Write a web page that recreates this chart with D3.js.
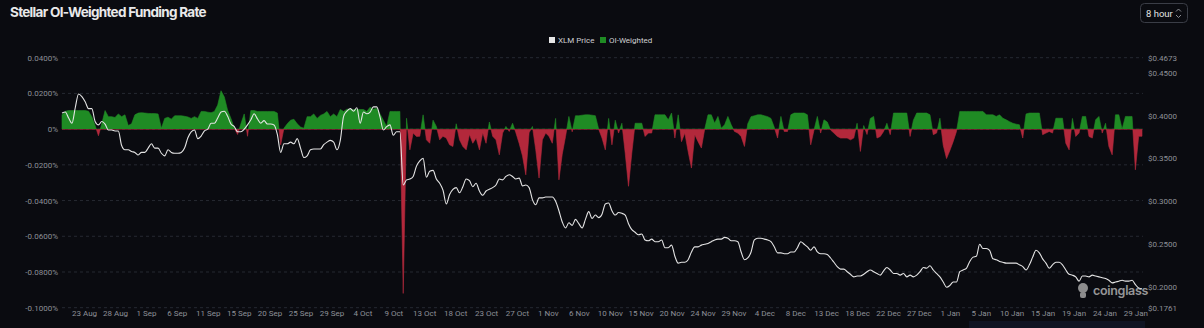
<!DOCTYPE html>
<html>
<head>
<meta charset="utf-8">
<script src="https://cdn.jsdelivr.net/npm/d3@7"></script>
<style>
  html, body { margin: 0; padding: 0; background: #0a0b10; }
  svg { display: block; }
</style>
</head>
<body>
<svg id="chart" width="1204" height="328"></svg>
<script>
// Série 12h à partir du 20 août 2025 (UTC)
const START_UTC = Date.UTC(2025, 7, 20);
const STEP_HOURS = 12;

// XLM prix ($)
const priceValues = [
  0.403,0.404,0.397,0.391,0.409,0.425,0.422,0.416,0.408,0.408,
  0.393,0.389,0.393,0.390,0.383,0.383,0.382,0.382,0.365,0.360,
  0.360,0.358,0.357,0.354,0.357,0.357,0.362,0.367,0.362,0.362,
  0.356,0.353,0.360,0.357,0.356,0.356,0.357,0.362,0.374,0.381,
  0.383,0.373,0.376,0.382,0.384,0.391,0.391,0.397,0.404,0.405,
  0.399,0.390,0.387,0.381,0.381,0.384,0.389,0.395,0.402,0.396,
  0.391,0.394,0.390,0.390,0.389,0.378,0.357,0.367,0.367,0.369,
  0.367,0.373,0.362,0.351,0.353,0.360,0.361,0.361,0.361,0.366,
  0.369,0.371,0.369,0.360,0.371,0.399,0.405,0.408,0.405,0.409,
  0.391,0.404,0.402,0.404,0.410,0.410,0.398,0.383,0.387,0.389,
  0.377,0.381,0.381,0.319,0.325,0.326,0.329,0.341,0.347,0.350,
  0.328,0.335,0.336,0.326,0.321,0.313,0.297,0.308,0.314,0.316,
  0.310,0.317,0.326,0.324,0.317,0.321,0.312,0.307,0.312,0.314,
  0.316,0.319,0.326,0.325,0.329,0.331,0.329,0.326,0.327,0.318,
  0.319,0.316,0.302,0.296,0.304,0.304,0.305,0.305,0.305,0.300,
  0.289,0.276,0.269,0.275,0.272,0.279,0.274,0.269,0.279,0.288,
  0.280,0.284,0.281,0.285,0.297,0.298,0.289,0.284,0.287,0.286,
  0.284,0.274,0.267,0.264,0.261,0.262,0.255,0.254,0.256,0.253,
  0.253,0.255,0.246,0.246,0.249,0.236,0.228,0.229,0.229,0.232,
  0.241,0.247,0.247,0.249,0.250,0.251,0.253,0.255,0.256,0.256,
  0.258,0.257,0.254,0.254,0.253,0.241,0.232,0.234,0.241,0.255,
  0.257,0.257,0.256,0.255,0.253,0.247,0.240,0.240,0.239,0.239,
  0.241,0.241,0.246,0.253,0.250,0.247,0.243,0.247,0.241,0.239,
  0.239,0.238,0.234,0.229,0.224,0.221,0.221,0.218,0.215,0.212,
  0.213,0.213,0.215,0.218,0.220,0.218,0.216,0.214,0.219,0.223,
  0.220,0.216,0.216,0.214,0.216,0.212,0.214,0.212,0.214,0.218,
  0.223,0.222,0.225,0.220,0.216,0.212,0.206,0.200,0.202,0.206,
  0.206,0.218,0.220,0.222,0.230,0.235,0.236,0.250,0.245,0.245,
  0.243,0.233,0.232,0.230,0.229,0.228,0.228,0.228,0.228,0.226,
  0.224,0.220,0.226,0.235,0.243,0.240,0.233,0.228,0.222,0.226,
  0.229,0.229,0.226,0.220,0.215,0.214,0.212,0.207,0.213,0.213,
  0.212,0.214,0.213,0.212,0.211,0.210,0.208,0.205,0.206,0.207,
  0.208,0.207,0.207,0.208,0.203,0.199,0.198
];

// Funding pondéré OI (%)
const fundingValues = [
  0.0080,0.0100,0.0104,0.0104,0.0104,0.0104,0.0104,0.0104,0.0100,0.0069,
  0.0020,-0.0037,0.0030,0.0104,0.0070,0.0070,0.0065,0.0085,0.0070,0.0080,
  0.0020,0.0030,0.0080,0.0090,0.0092,0.0090,0.0088,0.0087,0.0087,0.0085,
  0.0005,0.0060,0.0067,0.0056,0.0075,0.0075,0.0075,0.0072,0.0068,0.0060,
  0.0070,0.0060,0.0099,0.0099,0.0095,0.0092,0.0099,0.0135,0.0215,0.0180,
  0.0105,0.0060,0.0005,-0.0030,0.0030,0.0085,-0.0040,0.0104,0.0104,0.0099,
  0.0099,0.0099,0.0099,0.0099,0.0099,0.0090,-0.0088,0.0005,0.0030,0.0050,
  0.0055,0.0030,0.0012,0.0005,0.0070,0.0070,0.0085,0.0060,0.0077,0.0085,
  0.0099,0.0070,0.0085,0.0070,0.0110,0.0099,0.0112,0.0110,0.0110,0.0110,
  0.0110,0.0110,0.0099,0.0123,0.0112,0.0117,0.0085,0.0050,0.0015,0.0099,
  0.0099,0.0099,0.0099,-0.0920,0.0061,-0.0116,-0.0022,-0.0041,-0.0040,0.0080,
  -0.0060,-0.0079,0.0050,0.0015,-0.0060,-0.0040,-0.0050,-0.0088,-0.0097,0.0030,
  -0.0060,-0.0097,-0.0116,-0.0030,-0.0079,-0.0050,-0.0116,-0.0020,-0.0079,0.0040,
  -0.0040,-0.0060,-0.0144,-0.0022,0.0015,-0.0013,0.0033,-0.0020,-0.0080,-0.0150,
  -0.0256,-0.0020,0.0015,-0.0116,-0.0274,-0.0060,-0.0022,-0.0040,-0.0079,0.0060,
  -0.0284,-0.0140,-0.0041,0.0071,-0.0015,0.0075,0.0075,0.0078,0.0080,0.0080,
  0.0078,0.0075,0.0000,-0.0050,-0.0116,0.0060,-0.0088,0.0050,-0.0022,0.0033,
  -0.0134,-0.0320,-0.0134,0.0033,0.0033,0.0033,-0.0041,-0.0022,-0.0022,0.0080,
  0.0080,0.0080,0.0080,0.0052,0.0090,-0.0050,0.0080,-0.0070,-0.0022,-0.0125,
  -0.0218,-0.0031,-0.0070,-0.0106,0.0000,0.0080,0.0080,0.0033,0.0071,0.0005,
  0.0024,0.0071,0.0024,-0.0013,-0.0022,-0.0041,-0.0097,0.0030,0.0070,0.0075,
  0.0080,0.0080,0.0075,0.0070,0.0060,0.0010,-0.0050,0.0071,-0.0013,-0.0013,
  0.0080,0.0090,0.0090,0.0090,0.0090,0.0080,-0.0088,-0.0005,0.0071,-0.0022,
  0.0052,0.0040,-0.0005,-0.0022,-0.0040,-0.0050,-0.0050,-0.0050,-0.0060,-0.0050,
  0.0033,-0.0125,0.0020,-0.0030,0.0060,0.0071,-0.0050,-0.0041,-0.0013,0.0033,
  -0.0031,0.0090,0.0090,0.0090,0.0090,0.0090,-0.0041,0.0050,0.0090,0.0090,
  0.0090,0.0090,0.0080,-0.0031,-0.0022,0.0061,-0.0090,-0.0165,-0.0120,-0.0070,
  -0.0013,0.0099,0.0099,0.0099,0.0099,0.0099,0.0099,0.0099,0.0099,0.0080,
  0.0080,0.0080,0.0071,0.0080,0.0061,0.0052,0.0042,0.0033,0.0028,0.0024,
  -0.0050,0.0085,0.0090,0.0090,0.0090,0.0090,-0.0031,-0.0022,-0.0013,-0.0022,
  0.0061,0.0061,0.0061,-0.0079,-0.0116,0.0060,-0.0041,-0.0022,0.0071,0.0071,
  -0.0041,-0.0050,0.0052,0.0071,-0.0022,0.0033,-0.0097,-0.0144,0.0080,0.0080,
  0.0000,0.0071,0.0071,0.0071,-0.0228,-0.0040,-0.0040
];

const leftTicks  = [0.04, 0.02, 0, -0.02, -0.04, -0.06, -0.08, -0.1];
const rightTicks = [0.4673, 0.45, 0.40, 0.35, 0.30, 0.25, 0.20, 0.1761];

// Libellés de l'axe X : un tous les 112h à partir du 23 août 08:00 UTC
const X_TICK_START = Date.UTC(2025, 7, 23, 8);
const X_TICK_STEP_HOURS = 112;
const xTickLabels = [
  '23 Aug','28 Aug','1 Sep','6 Sep','11 Sep','15 Sep','20 Sep','25 Sep','29 Sep',
  '4 Oct','9 Oct','13 Oct','18 Oct','23 Oct','27 Oct','1 Nov','6 Nov','10 Nov',
  '15 Nov','20 Nov','24 Nov','29 Nov','4 Dec','8 Dec','13 Dec','18 Dec','22 Dec',
  '27 Dec','1 Jan','5 Jan','10 Jan','15 Jan','19 Jan','24 Jan','29 Jan'
];

const CFG = {
  left: 62, right: 1142, top: 57.7, bottom: 307.7,
  bg: '#0a0b10',
  green: '#1f8b24',
  red: '#b3283b',
  price: '#e4e4e4',
  grid: '#262932',
  text: '#8d9097',
  font: 'Roboto, "Liberation Sans", sans-serif'
};

const H = 3600 * 1000;
const priceData   = priceValues.map((v, i) => ({ date: new Date(START_UTC + i * STEP_HOURS * H), value: v }));
const fundingData = fundingValues.map((v, i) => ({ date: new Date(START_UTC + i * STEP_HOURS * H), value: v }));
const tickDates   = xTickLabels.map((_, i) => new Date(X_TICK_START + i * X_TICK_STEP_HOURS * H));

const svg = d3.select('#chart');
svg.append('rect').attr('width', 1204).attr('height', 328).attr('fill', CFG.bg);

// Échelles
const x = d3.scaleUtc()
  .domain([priceData[0].date, priceData[priceData.length - 1].date])
  .range([CFG.left, CFG.right]);
const yL = d3.scaleLinear().domain([-0.1, 0.04]).range([CFG.bottom, CFG.top]);
const yR = d3.scaleLinear().domain([0.1761, 0.4673]).range([CFG.bottom, CFG.top]);

// Titre
svg.append('text')
  .attr('x', 10).attr('y', 17)
  .attr('fill', '#e9e9ea')
  .style('font-family', 'Inter, sans-serif')
  .style('font-weight', 700)
  .style('font-size', '13.5px')
  .style('letter-spacing', '-0.7px')
  .text('Stellar OI-Weighted Funding Rate');

// Bouton "8 hour"
const btn = svg.append('g').attr('transform', 'translate(1140.5,3.5)');
btn.append('rect').attr('width', 47).attr('height', 19).attr('rx', 4)
  .attr('fill', 'none').attr('stroke', '#3a3d46');
btn.append('text').attr('x', 5.5).attr('y', 13)
  .attr('fill', '#e3e3e3')
  .style('font-family', 'Roboto, sans-serif').style('font-size', '9.5px')
  .text('8 hour');
btn.append('path').attr('d', 'M35.5,8 L38,5.5 L40.5,8 M35.5,11.5 L38,14 L40.5,11.5')
  .attr('fill', 'none').attr('stroke', '#9a9ca3').attr('stroke-width', 0.9);

// Légende
const legend = svg.append('g').attr('transform', 'translate(549,37)');
[{ label: 'XLM Price', color: '#e6e6e6', w: 51 }, { label: 'OI-Weighted', color: CFG.green, w: 0 }]
  .reduce((off, item) => {
    const g = legend.append('g').attr('transform', `translate(${off},0)`);
    g.append('rect').attr('width', 6).attr('height', 6).attr('fill', item.color);
    g.append('text').attr('x', 9).attr('y', 5.8)
      .attr('fill', '#cfd0d3')
      .style('font-family', CFG.font).style('font-size', '8px')
      .text(item.label);
    return off + item.w;
  }, 0);

// Grille horizontale
svg.append('g')
  .selectAll('line')
  .data(leftTicks)
  .join('line')
  .attr('x1', CFG.left).attr('x2', CFG.right + 1)
  .attr('y1', d => yL(d)).attr('y2', d => yL(d))
  .attr('stroke', CFG.grid)
  .attr('stroke-dasharray', '3,3');

// Axe gauche
svg.append('g')
  .attr('transform', `translate(${CFG.left},0)`)
  .call(d3.axisLeft(yL).tickValues(leftTicks).tickSize(0).tickPadding(4)
    .tickFormat(d => d === 0 ? '0%' : d.toFixed(4) + '%'))
  .call(g => g.select('.domain').remove())
  .call(g => g.selectAll('text').attr('fill', CFG.text)
    .style('font-family', CFG.font).style('font-size', '8px'));

// Axe droit
svg.append('g')
  .attr('transform', `translate(${CFG.right + 1},0)`)
  .call(d3.axisRight(yR).tickValues(rightTicks).tickSize(0).tickPadding(5)
    .tickFormat(d => '$' + d.toFixed(4)))
  .call(g => g.select('.domain').remove())
  .call(g => g.selectAll('text').attr('fill', CFG.text)
    .style('font-family', CFG.font).style('font-size', '8px'));

// Axe X
svg.append('g')
  .attr('transform', `translate(0,${CFG.bottom})`)
  .call(d3.axisBottom(x).tickValues(tickDates).tickSize(0).tickPadding(3)
    .tickFormat((d, i) => xTickLabels[i]))
  .call(g => g.select('.domain').remove())
  .call(g => g.selectAll('text').attr('fill', CFG.text)
    .style('font-family', CFG.font).style('font-size', '8px'));

// Bande du sélecteur de zoom (bas de page)
svg.append('rect')
  .attr('x', 969).attr('y', 321).attr('width', 176).attr('height', 7)
  .attr('fill', '#0f1422');

// Dégradé vert / rouge coupé à 0
const zeroOffset = (yL(0) - CFG.top) / (CFG.bottom - CFG.top);
const grad = svg.append('defs').append('linearGradient')
  .attr('id', 'funding-grad')
  .attr('gradientUnits', 'userSpaceOnUse')
  .attr('x1', 0).attr('x2', 0).attr('y1', CFG.top).attr('y2', CFG.bottom);
grad.append('stop').attr('offset', zeroOffset).attr('stop-color', CFG.green);
grad.append('stop').attr('offset', zeroOffset).attr('stop-color', CFG.red);

const area = d3.area()
  .x(d => x(d.date))
  .y0(yL(0))
  .y1(d => yL(d.value));

svg.append('path')
  .datum(fundingData)
  .attr('fill', 'url(#funding-grad)')
  .attr('stroke', 'url(#funding-grad)')
  .attr('stroke-width', 0.6)
  .attr('d', area);

// Courbe de prix
const line = d3.line()
  .x(d => x(d.date))
  .y(d => yR(d.value))
  .curve(d3.curveMonotoneX);

svg.append('path')
  .datum(priceData)
  .attr('fill', 'none')
  .attr('stroke', CFG.price)
  .attr('stroke-width', 1.1)
  .attr('d', line);

// Filigrane coinglass
const wm = svg.append('g').attr('transform', 'translate(1077,282)').attr('opacity', 0.75);
wm.append('circle').attr('cx', 6).attr('cy', 6).attr('r', 5).attr('fill', '#b9b9b9');
wm.append('rect').attr('x', 3).attr('y', 10).attr('width', 6).attr('height', 6).attr('rx', 2).attr('fill', '#b9b9b9');
wm.append('text').attr('x', 16).attr('y', 12.5)
  .attr('fill', '#c4c4c4')
  .style('font-family', 'Inter, sans-serif').style('font-weight', 600).style('font-size', '12.5px')
  .style('letter-spacing', '-0.3px')
  .text('coinglass');
</script>
</body>
</html>
